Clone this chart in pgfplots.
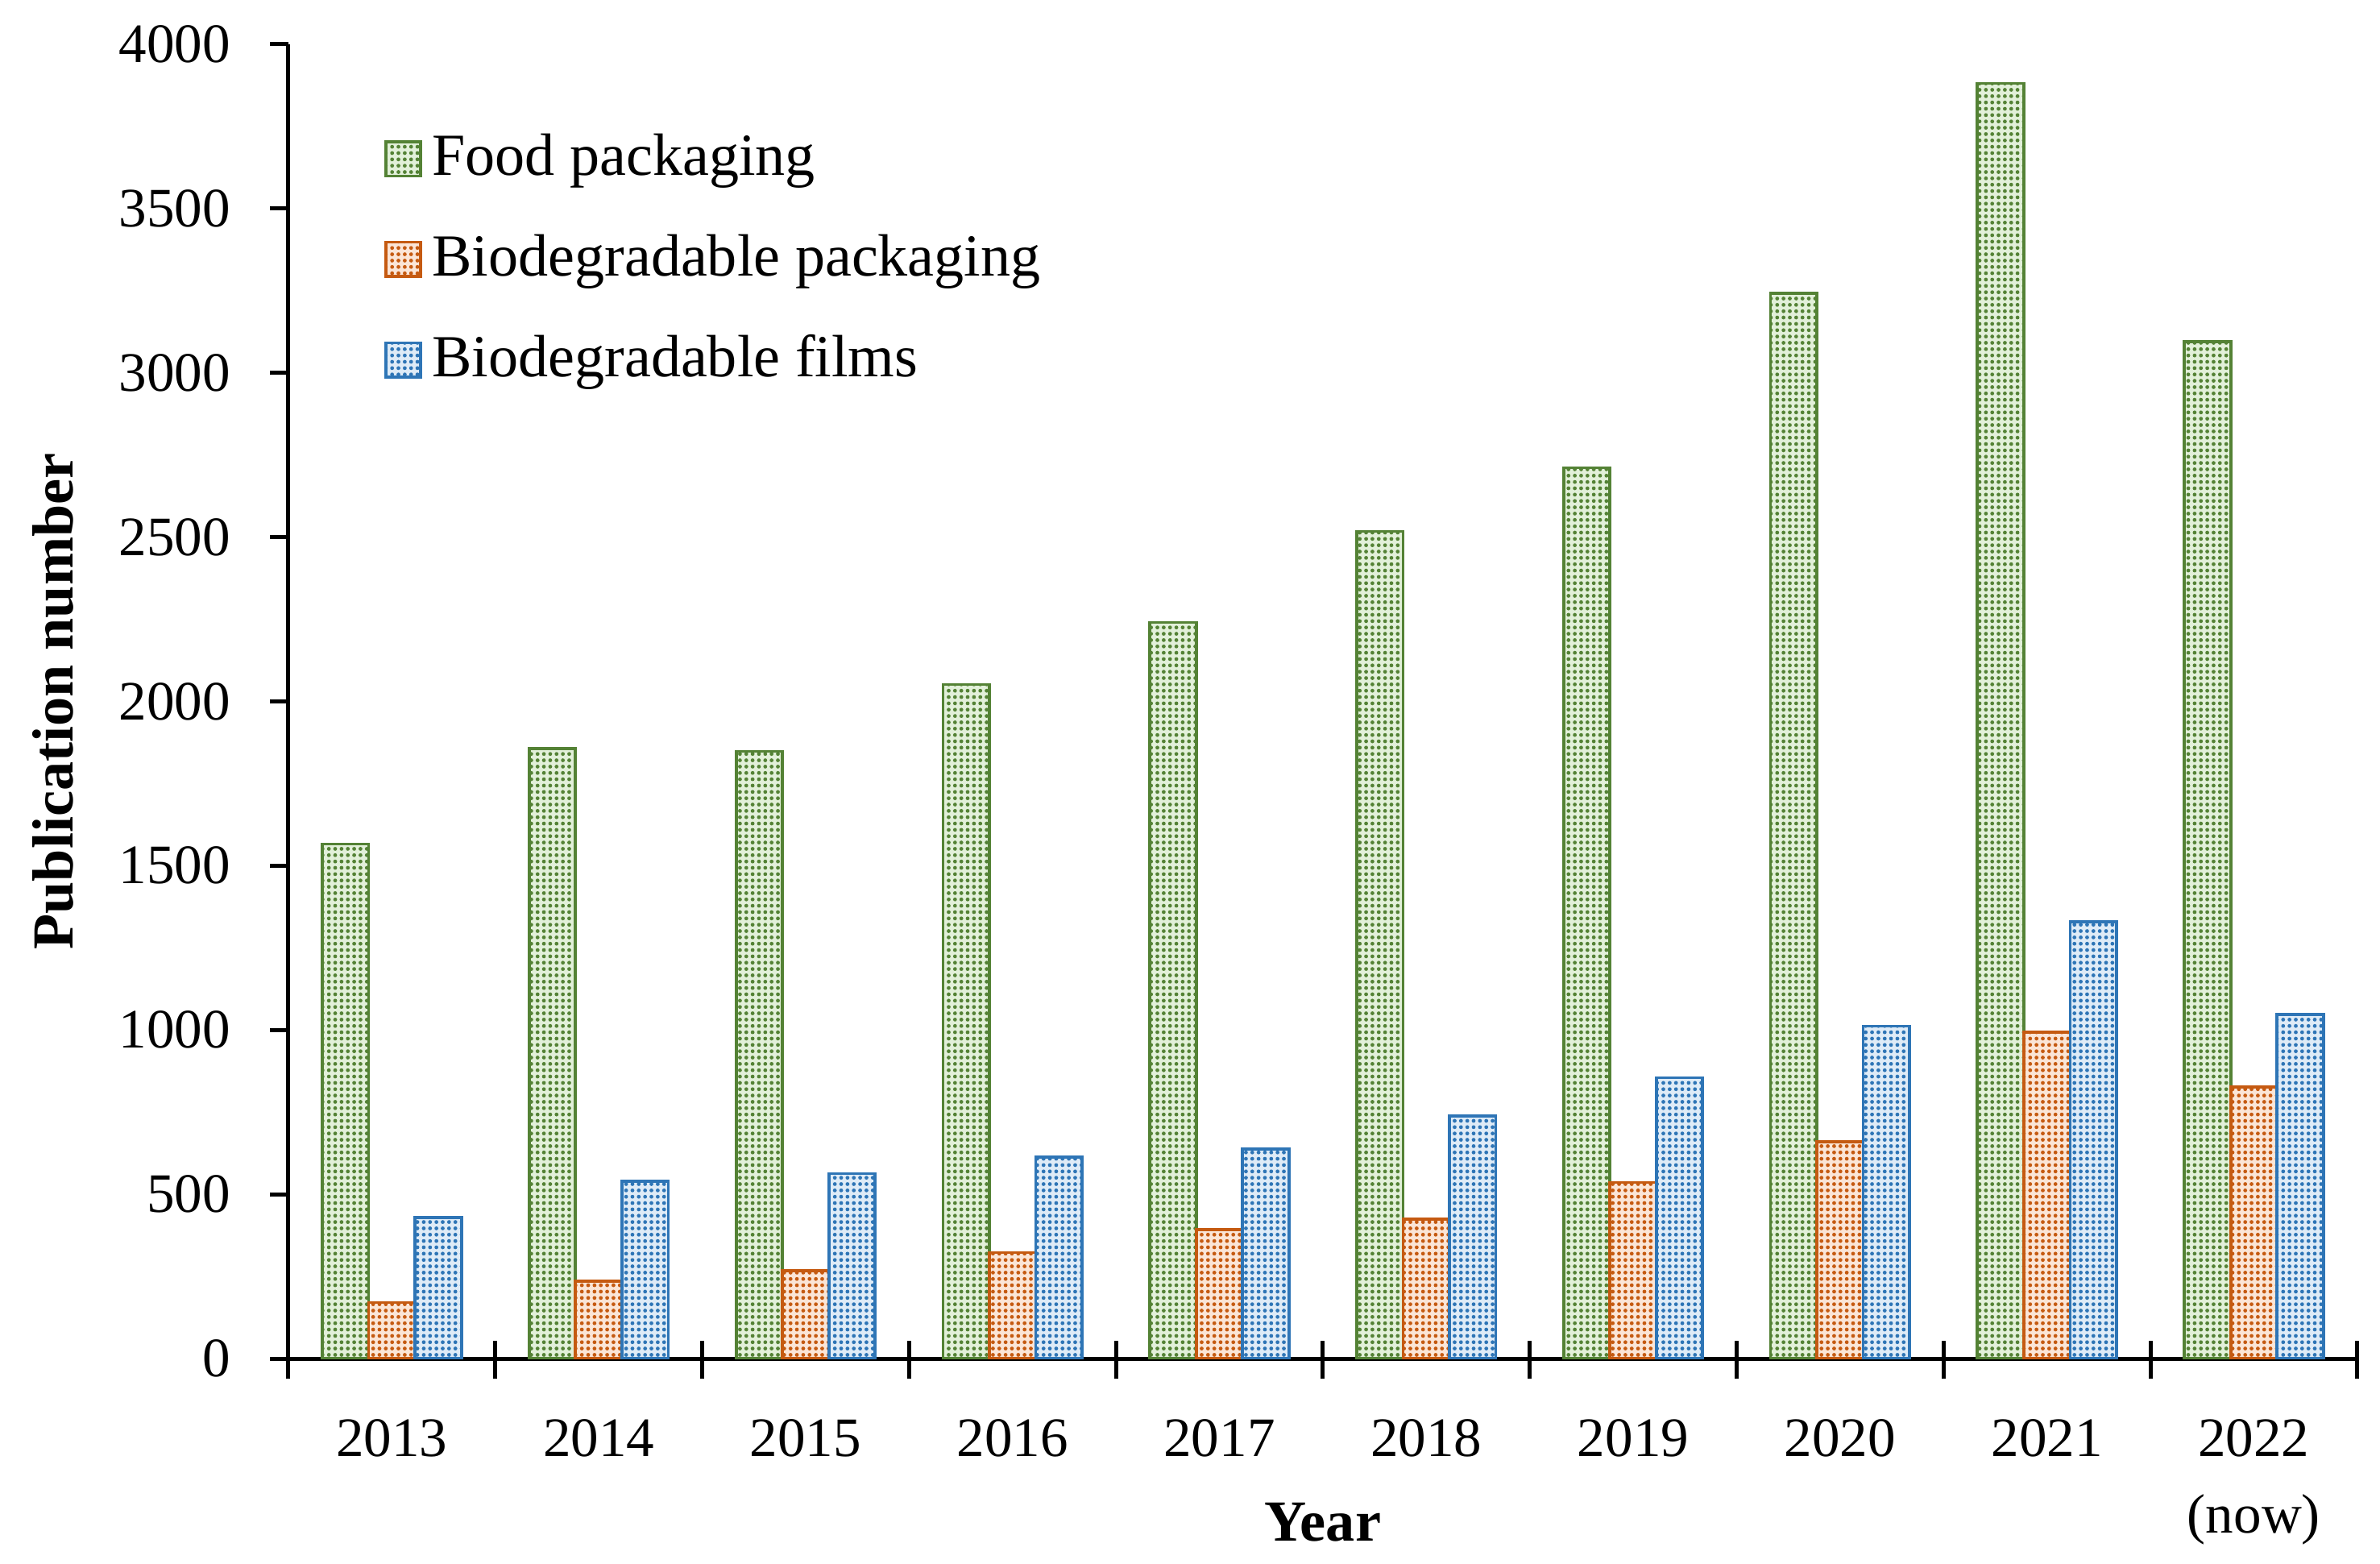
\documentclass[border=0pt]{standalone}
\usepackage{fontspec}
\setmainfont{Liberation Serif}
\usepackage{pgfplots}
\pgfplotsset{compat=1.18}
\usetikzlibrary{patterns.meta}
\definecolor{cgreen}{RGB}{84,130,53}
\definecolor{corange}{RGB}{197,90,17}
\definecolor{cblue}{RGB}{46,117,182}
\definecolor{fgreen}{RGB}{226,240,217}
\definecolor{forange}{RGB}{251,229,214}
\definecolor{fblue}{RGB}{222,235,247}
\pgfplotstableread{
x food biopack biofilm
0 1566 171 430
1 1857 236 540
2 1848 268 563
3 2051 323 614
4 2240 393 637
5 2517 425 739
6 2711 536 855
7 3242 660 1012
8 3880 993 1330
9 3095 827 1048
}\datatable
\pgfplotsset{sqlegend/.style={legend image code/.code={\draw[##1] (0pt,-3.4pt) rectangle (6.8pt,3.4pt);}}}
\begin{document}
\fontsize{11}{13}\selectfont
\begin{tikzpicture}
\path[use as bounding box] (-57pt,-40.5pt) rectangle (413.4pt,268.5pt);
\begin{axis}[
  scale only axis, width=408.9pt, height=259.8pt,
  at={(0,0)}, anchor=south west,
  xmin=-0.5, xmax=9.5, ymin=0, ymax=4000,
  axis x line*=bottom, axis y line*=left,
  axis line style={line width=0.8pt, black},
  ytick={0,500,...,4000},
  scaled y ticks=false,
  /pgf/number format/1000 sep={},
  /pgf/number format/assume math mode=true,
  ytick align=outside, ytick pos=left,
  major tick length=3.6pt,
  minor tick length=7.4pt,
  xtick={0,...,9},
  xticklabels={2013,2014,2015,2016,2017,2018,2019,2020,2021,{2022\\(now)}},
  major x tick style={draw=none},
  minor xtick={-0.5,0.5,...,9.5},
  minor x tick style={line width=0.8pt, black, yshift=3.5pt},
  y tick style={line width=0.8pt, black},
  xticklabel style={align=center, font=\fontsize{11}{15}\selectfont, yshift=-4.6pt},
  yticklabel style={xshift=-4pt, font=\fontsize{11}{13}\selectfont},
  xlabel={\bfseries Year},
  ylabel={\bfseries Publication number},
  label style={font=\fontsize{11.5}{13}\selectfont},
  xlabel style={at={(axis description cs:0.5,-0.1247)}, anchor=center},
  ylabel style={at={(axis description cs:-0.1138,0.5)}, anchor=center},
  legend style={at={(0.046,0.94)}, anchor=north west, draw=none, fill=none,
    inner sep=0pt, row sep=6pt, font=\fontsize{11.8}{13}\selectfont},
  legend cell align=left,
  ybar, bar width=0.224,
]
\addplot[draw=cgreen, line width=0.6pt, fill=fgreen, bar shift=-0.224, sqlegend,
  postaction={pattern color=cgreen, pattern={Dots[distance=1.25pt,radius=0.38pt]}}]
  table[x=x,y=food]{\datatable};
\addlegendentry{Food packaging}
\addplot[draw=corange, line width=0.6pt, fill=forange, bar shift=0, sqlegend,
  postaction={pattern color=corange, pattern={Dots[distance=1.25pt,radius=0.38pt]}}]
  table[x=x,y=biopack]{\datatable};
\addlegendentry{Biodegradable packaging}
\addplot[draw=cblue, line width=0.6pt, fill=fblue, bar shift=0.224, sqlegend,
  postaction={pattern color=cblue, pattern={Dots[distance=1.25pt,radius=0.38pt]}}]
  table[x=x,y=biofilm]{\datatable};
\addlegendentry{Biodegradable films}
\end{axis}
\end{tikzpicture}
\end{document}
